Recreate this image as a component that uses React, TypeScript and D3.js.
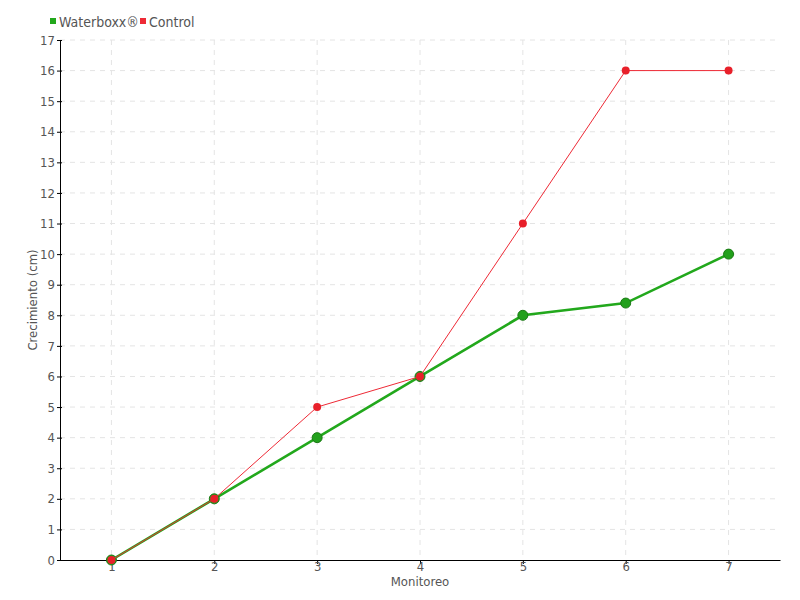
import * as d3 from "d3";
import { useRef, useEffect } from "react";

const monitoreos = [1, 2, 3, 4, 5, 6, 7];
const waterboxx = [0, 2, 4, 6, 8, 8.4, 10];
const control = [0, 2, 5, 6, 11, 16, 16];
const yTicks = d3.range(0, 18);

const width = 800;
const height = 600;
const margin = { top: 40, right: 20, bottom: 40, left: 60 };
const font = "'DejaVu Sans Condensed', 'DejaVu Sans', sans-serif";

export default function App() {
  const svgRef = useRef<SVGSVGElement>(null);

  useEffect(() => {
    const svg = d3.select(svgRef.current);
    svg.selectAll("*").remove();

    const x = d3.scaleLinear().domain([0.5, 7.5]).range([margin.left, width - margin.right]);
    const y = d3.scaleLinear().domain([0, 17]).range([height - margin.bottom, margin.top]);

    const txt = (sel: any) =>
      sel.attr("fill", "#555")
        .style("font-family", font)
        .style("font-stretch", "condensed")
        .style("font-size", "13px");

    // rejilla
    const grid = svg.append("g").attr("stroke", "#e4e4e4").attr("stroke-dasharray", "5,5");
    grid.selectAll("line.h")
      .data(yTicks.slice(1))
      .join("line")
      .attr("x1", margin.left).attr("x2", width - margin.right)
      .attr("y1", d => y(d)).attr("y2", d => y(d));
    grid.selectAll("line.v")
      .data(monitoreos)
      .join("line")
      .attr("x1", d => x(d)).attr("x2", d => x(d))
      .attr("y1", margin.top).attr("y2", height - margin.bottom);

    // ejes
    const xAxis = svg.append("g")
      .attr("transform", `translate(0,${height - margin.bottom})`)
      .call(d3.axisBottom(x).tickValues(monitoreos).tickFormat(d3.format("d")).tickSize(4).tickSizeOuter(0));
    const yAxis = svg.append("g")
      .attr("transform", `translate(${margin.left},0)`)
      .call(d3.axisLeft(y).tickValues(yTicks).tickFormat(d3.format("d")).tickSize(3).tickSizeOuter(0));
    yAxis.selectAll(".tick line").attr("x2", 2).attr("x1", -3);
    for (const ax of [xAxis, yAxis]) {
      ax.select(".domain").attr("stroke", "#000");
      txt(ax.selectAll("text"));
    }
    xAxis.selectAll("text").attr("y", 2).attr("dy", "0.71em");
    yAxis.selectAll("text").attr("x", -5);

    txt(svg.append("text")
      .attr("x", (margin.left + width - margin.right) / 2).attr("y", 586)
      .attr("text-anchor", "middle"))
      .text("Monitoreo");
    txt(svg.append("text")
      .attr("transform", `translate(37,${(margin.top + height - margin.bottom) / 2}) rotate(-90)`)
      .attr("text-anchor", "middle"))
      .text("Crecimiento (cm)");

    const line = d3.line<number>().x((d, i) => x(monitoreos[i])).y(d => y(d));

    // Waterboxx
    svg.append("path").attr("d", line(waterboxx)).attr("fill", "none")
      .attr("stroke", "#22a81c").attr("stroke-width", 2.6);
    svg.append("g").selectAll("circle").data(waterboxx).join("circle")
      .attr("cx", (d, i) => x(monitoreos[i])).attr("cy", d => y(d)).attr("r", 5)
      .attr("fill", "#22a01c").attr("stroke", "#1a7a14").attr("stroke-width", 1);

    // Control
    svg.append("path").attr("d", line(control)).attr("fill", "none")
      .attr("stroke", "#ee2a36").attr("stroke-width", 1);
    svg.append("g").selectAll("circle").data(control).join("circle")
      .attr("cx", (d, i) => x(monitoreos[i])).attr("cy", d => y(d)).attr("r", 4)
      .attr("fill", "#e8202a");

    // leyenda
    const legend = [
      { name: "Waterboxx®", color: "#22a81c", x: 50 },
      { name: "Control", color: "#ee2a36", x: 140 },
    ];
    const lg = svg.append("g");
    legend.forEach(l => {
      lg.append("rect").attr("x", l.x).attr("y", 18).attr("width", 6).attr("height", 6).attr("fill", l.color);
      txt(lg.append("text").attr("x", l.x + 9).attr("y", 27)).style("font-size", "14px").text(l.name);
    });
  }, []);

  return (
    <svg ref={svgRef} width={width} height={height}
      style={{ position: "absolute", left: 0, top: 0, background: "#fff" }} />
  );
}
